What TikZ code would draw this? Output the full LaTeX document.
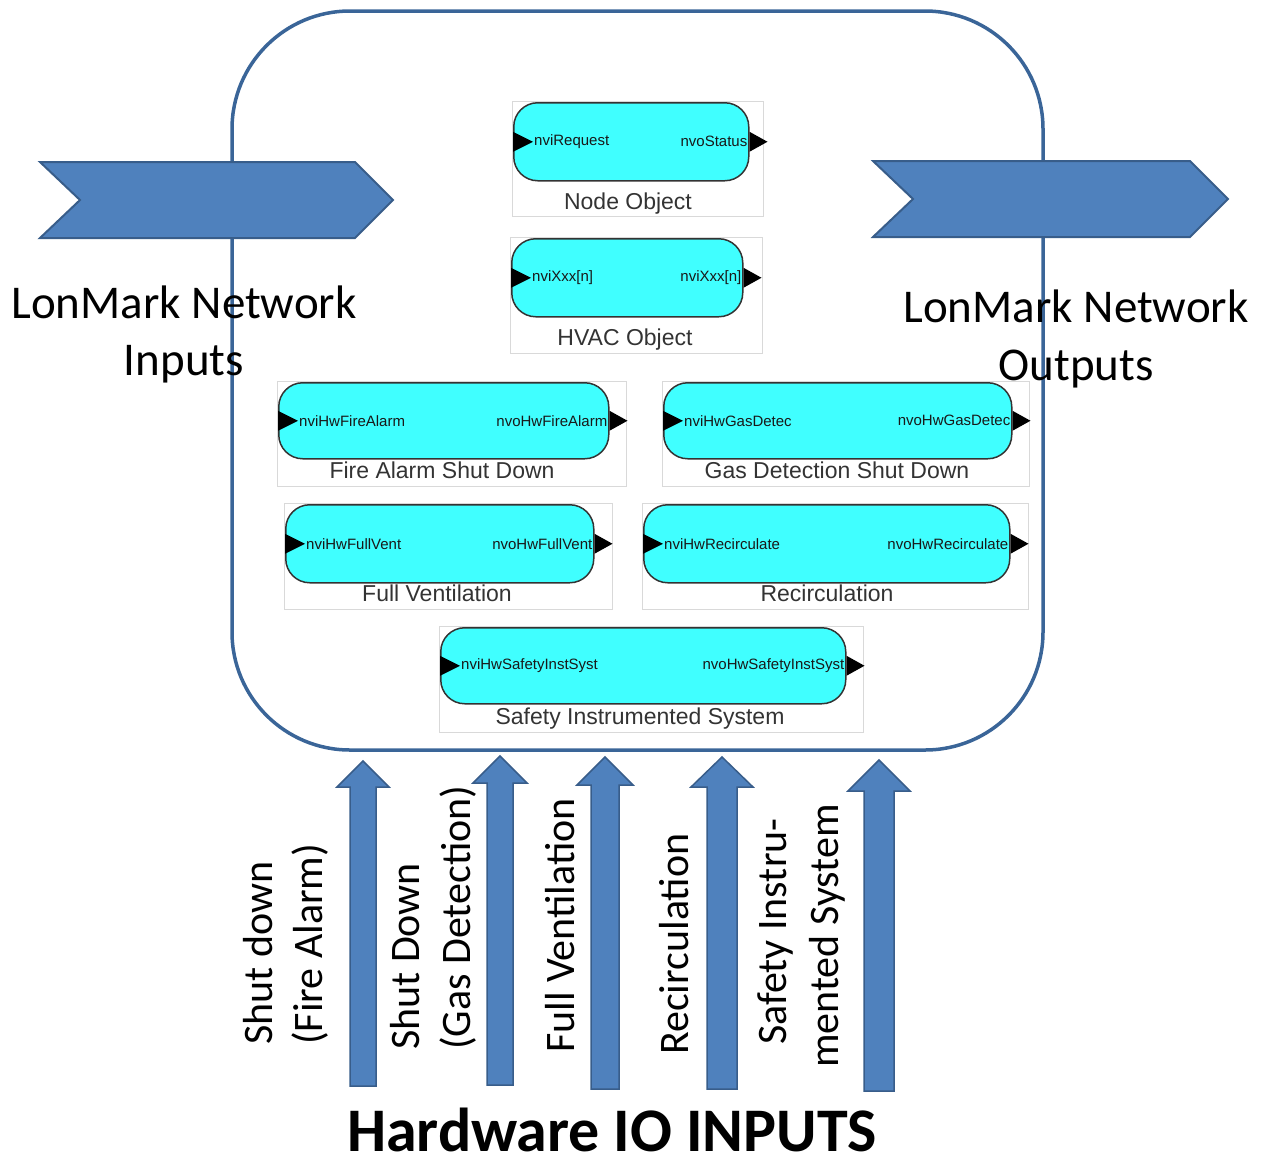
\documentclass[tikz,border=0pt]{standalone}
\usepackage{fontspec}
\setmainfont{Liberation Sans}
\newfontfamily\calib{Carlito}
\definecolor{chevfill}{HTML}{4F81BD}
\definecolor{chevdraw}{HTML}{385D8A}
\definecolor{boxline}{HTML}{3A6598}
\definecolor{cyanfill}{HTML}{40FFFF}
\definecolor{frameg}{HTML}{D9D9D9}
\tikzset{
  bigtxt/.style={font=\calib\fontsize{47}{57}\selectfont, inner sep=0pt, anchor=base},
  vtxt/.style={font=\calib\fontsize{42}{50}\selectfont, inner sep=0pt, rotate=90, anchor=base west},
  titletxt/.style={font=\calib\bfseries\fontsize{62}{70}\selectfont, inner sep=0pt, anchor=base},
  blockarrow/.style={fill=chevfill, draw=chevdraw, line width=1.5pt, line join=miter},
  chev/.style={fill=chevfill, draw=chevdraw, line width=2pt, line join=miter},
  outerbox/.style={draw=boxline, line width=3.5pt, rounded corners=118pt, inner sep=0pt},
  frame/.style={draw=frameg, line width=1pt},
  cyanbox/.style={fill=cyanfill, draw=black!80, line width=1.5pt, rounded corners=24pt, inner sep=0pt, anchor=north west},
  port/.style={fill=black},
  pinlbl/.style={font=\fontsize{15}{15}\selectfont, text=black!90, inner sep=0pt},
  captxt/.style={font=\fontsize{23}{23}\selectfont, text=black!80, inner sep=0pt, anchor=base},
}
% #1 name, #2 left, #3 top, #4 right, #5 bottom (cyan box), #6 frame right, #7 frame bottom, #8 in, #9 out
\newcommand{\lonblk}[9]{%
  \draw[frame] (#2-1,#3-1) rectangle (#6,#7);
  \node[cyanbox, minimum width=#4-#2, minimum height=#5-#3] (#1) at (#2,#3) {};
  \fill[port] ([yshift=10pt]#1.west) -- ++(20,10) -- ++(-20,10) -- cycle;
  \fill[port] ([yshift=10pt]#1.east) -- ++(18,10) -- ++(-18,10) -- cycle;
  \node[pinlbl, anchor=west] (#1-in) at ([xshift=21pt]#1.west) {#8};
  \node[pinlbl, anchor=east] (#1-out) at ([xshift=-2pt]#1.east) {#9};
}
\begin{document}
\begin{tikzpicture}[x=1pt,y=-1pt]
\useasboundingbox (0,0) rectangle (1267,1168);

% outer system box
\node[outerbox, minimum width=811, minimum height=739] (sys) at (637.5,380.5) {};

% network chevrons
\draw[chev] (40,162) -- (355,162) -- (393,200) -- (355,238) -- (40,238) -- (80,200) -- cycle;
\draw[chev] (873,161) -- (1190,161) -- (1228,199) -- (1190,237) -- (873,237) -- (913,199) -- cycle;

\node[bigtxt] (inl1) at (184,318) {LonMark Network};
\node[bigtxt] (inl2) at (184,375) {Inputs};
\node[bigtxt] (outl1) at (1076,322) {LonMark Network};
\node[bigtxt] (outl2) at (1076,380) {Outputs};

% function blocks
\lonblk{nodeobj}{513}{102}{748}{180}{763}{216}{nviRequest}{nvoStatus}
\node[captxt] (nodeobj-c) at (628,209) {Node Object};
\lonblk{hvac}{511}{238}{742}{316}{762}{353}{nviXxx[n]}{nviXxx[n]}
\node[captxt] (hvac-c) at (625,345) {HVAC Object};
\lonblk{fire}{278}{382}{608}{458}{626}{486}{nviHwFireAlarm}{nvoHwFireAlarm}
\node[captxt] (fire-c) at (442,478) {Fire Alarm Shut Down};
\lonblk{gas}{663}{382}{1011}{458}{1029}{486}{nviHwGasDetec}{nvoHwGasDetec}
\node[captxt] (gas-c) at (837,478) {Gas Detection Shut Down};
\lonblk{vent}{285}{504}{593}{582}{612}{609}{nviHwFullVent}{nvoHwFullVent}
\node[captxt] (vent-c) at (437,601) {Full Ventilation};
\lonblk{recirc}{643}{504}{1009}{582}{1028}{609}{nviHwRecirculate}{nvoHwRecirculate}
\node[captxt] (recirc-c) at (827,601) {Recirculation};
\lonblk{sis}{440}{627}{845}{703}{863}{732}{nviHwSafetyInstSyst}{nvoHwSafetyInstSyst}
\node[captxt] (sis-c) at (640,724) {Safety Instrumented System};

% hardware input block arrows
\draw[blockarrow] (350,1086) -- (350,787) -- (337,787) -- (363,761) -- (389,787) -- (376,787) -- (376,1086) -- cycle;
\draw[blockarrow] (487,1085) -- (487,783) -- (473,783) -- (500,756) -- (527,783) -- (513,783) -- (513,1085) -- cycle;
\draw[blockarrow] (591,1089) -- (591,785) -- (577,785) -- (605,757) -- (633,785) -- (619,785) -- (619,1089) -- cycle;
\draw[blockarrow] (707,1089) -- (707,787) -- (691,787) -- (722,757) -- (753,787) -- (737,787) -- (737,1089) -- cycle;
\draw[blockarrow] (864,1091) -- (864,791) -- (848,791) -- (879,760) -- (910,791) -- (894,791) -- (894,1091) -- cycle;

% vertical labels
\node[vtxt] (fa1) at (272,1045) {Shut down};
\node[vtxt] (fa2) at (322,1045) {(Fire Alarm)};
\node[vtxt] (gd1) at (419,1050) {Shut Down};
\node[vtxt] (gd2) at (470,1050) {(Gas Detection)};
\node[vtxt] (fv1) at (574,1053) {Full Ventilation};
\node[vtxt] (rc1) at (688,1055) {Recirculation};
\node[vtxt] (si1) at (786,1045) {Safety Instru-};
\node[vtxt] (si2) at (838,1068) {mented System};

\node[titletxt] (hwio) at (612,1151) {Hardware IO INPUTS};
\end{tikzpicture}
\end{document}
